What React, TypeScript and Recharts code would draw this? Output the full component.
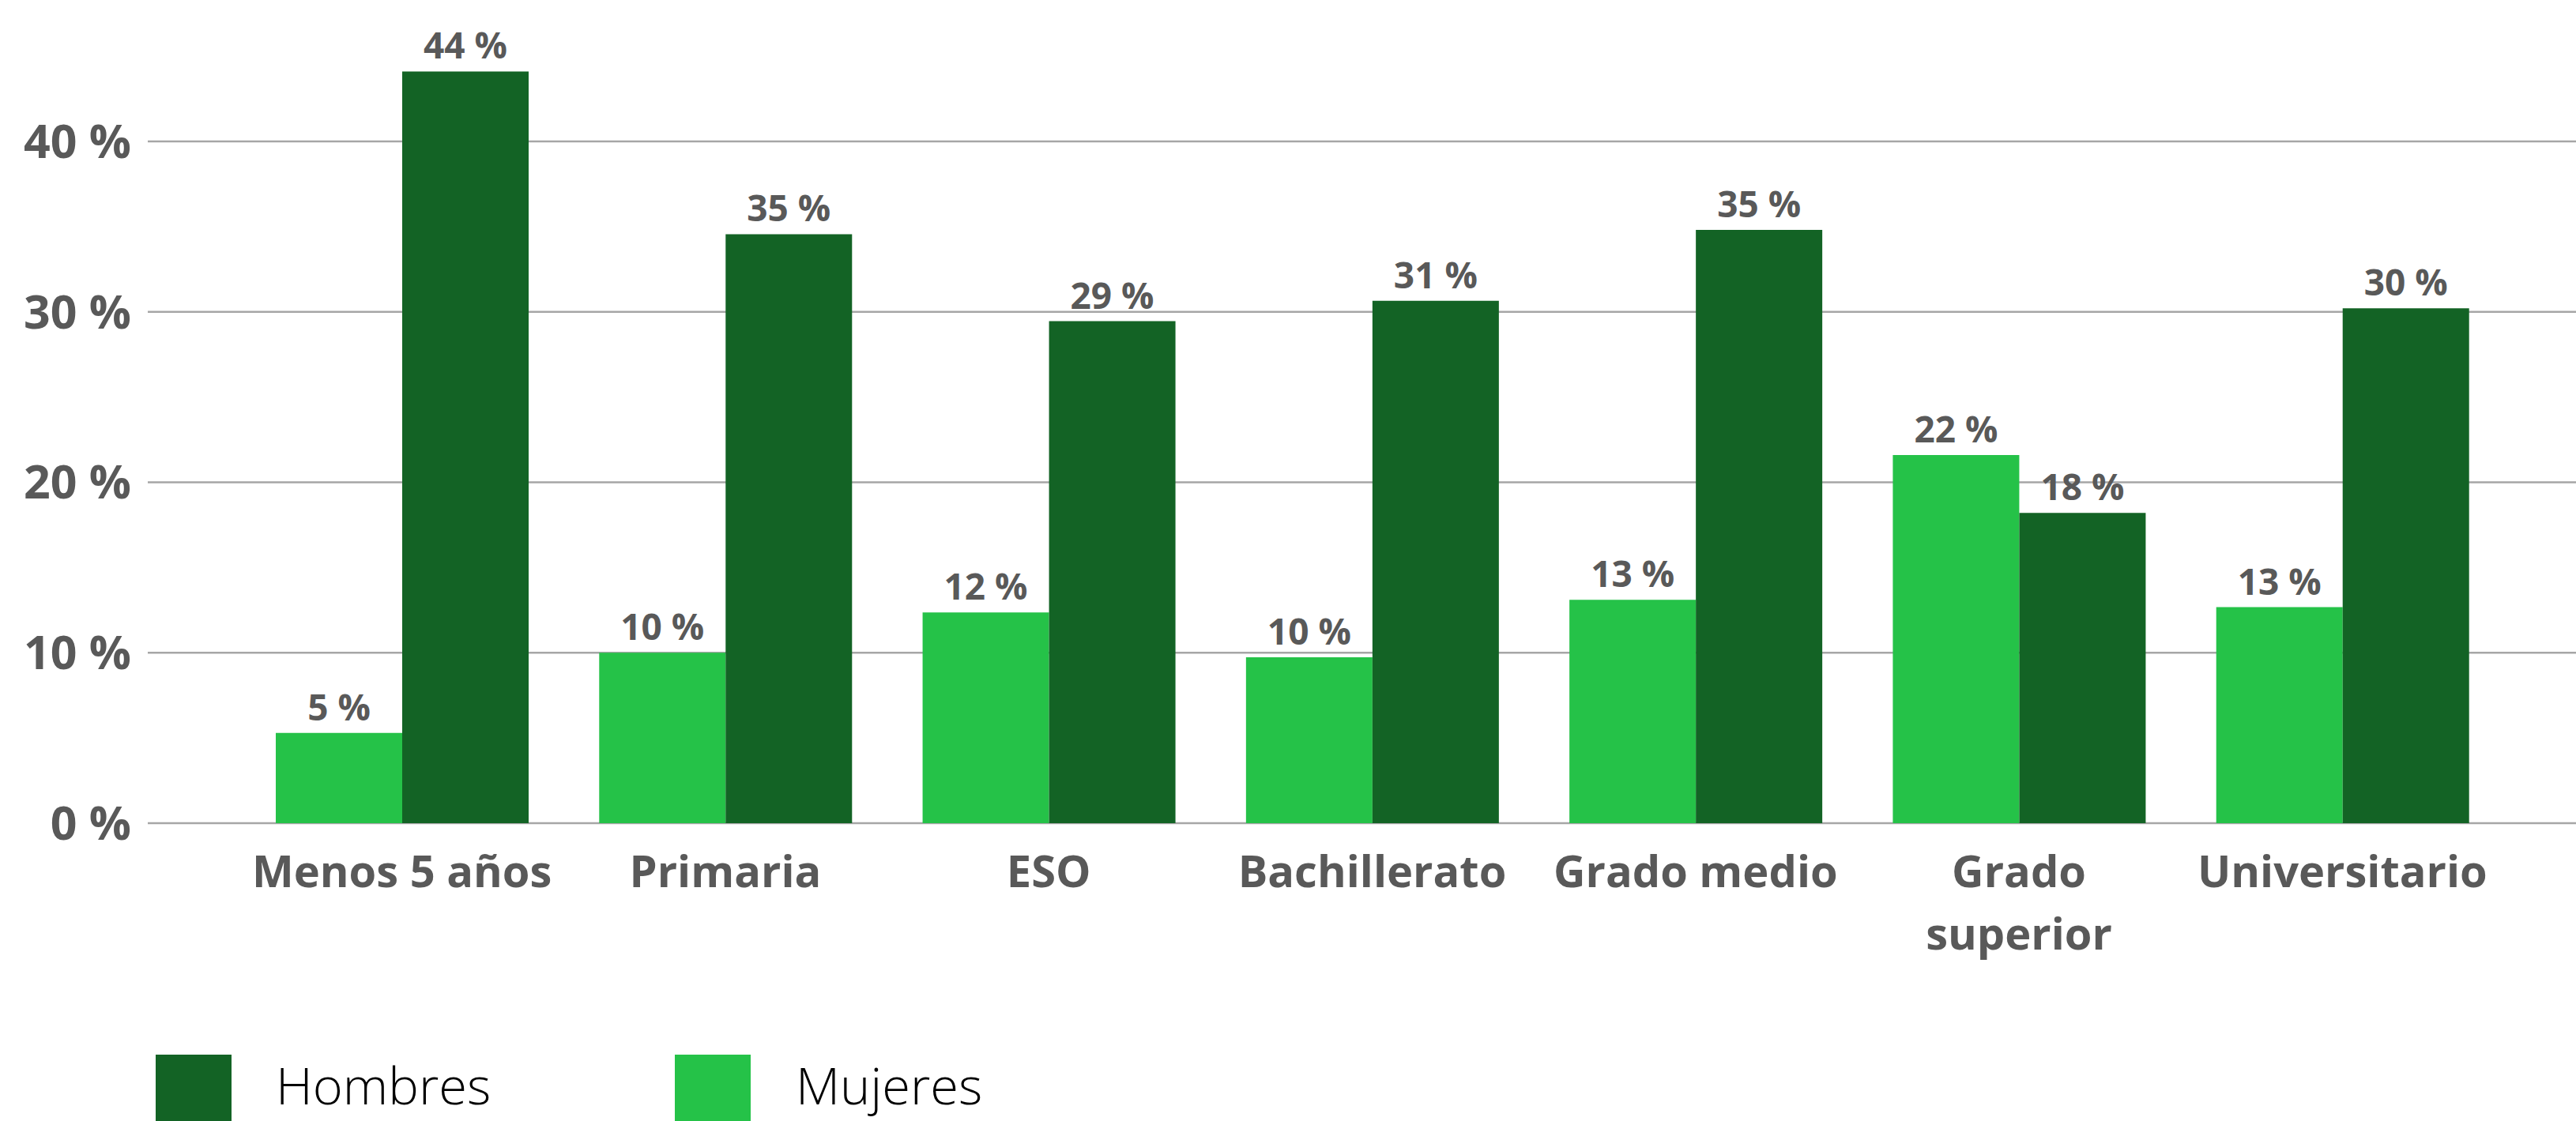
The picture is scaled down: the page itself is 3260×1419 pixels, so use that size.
import React from 'react';
import { BarChart, Bar, XAxis, YAxis, CartesianGrid, LabelList } from 'recharts';

const categories = ['Menos 5 años', 'Primaria', 'ESO', 'Bachillerato', 'Grado medio', 'Grado superior', 'Universitario'];
const mujeres = [5.3, 10.0, 12.36, 9.73, 13.1, 21.6, 12.67];
const hombres = [44.1, 34.55, 29.45, 30.64, 34.8, 18.2, 30.2];
const yTicks = [0, 10, 20, 30, 40];
// how the category labels break over lines
const tickLabelLines = [['Menos 5 años'], ['Primaria'], ['ESO'], ['Bachillerato'], ['Grado medio'], ['Grado', 'superior'], ['Universitario']];

const LIGHT = '#25c248';
const DARK = '#136325';
const TEXT = '#595959';
const FONT = "'Open Sans', 'Noto Sans', sans-serif";

const chartData = categories.map((name, i) => ({
  name,
  mujeres: mujeres[i],
  hombres: hombres[i],
}));

const pct = (v: number) => `${Math.round(v)} %`;

const CategoryTick = (props: any) => {
  const { x, y, index } = props;
  const lines = tickLabelLines[index] || [props.payload.value];
  return (
    <text x={x} y={y} textAnchor="middle" fill={TEXT} fontSize={56} fontWeight={700} fontFamily={FONT}>
      {lines.map((line: string, i: number) => (
        <tspan key={i} x={x} dy={i === 0 ? 81 : 79}>{line}</tspan>
      ))}
    </text>
  );
};

const legendItems = [
  { label: 'Hombres', color: DARK, left: 197, textLeft: 349 },
  { label: 'Mujeres', color: LIGHT, left: 854, textLeft: 1007 },
];

const App = () => {
  return (
    <div style={{ position: 'absolute', top: 0, left: 0, width: 3260, height: 1419, background: '#fff', overflow: 'hidden' }}>
      <BarChart
        width={3260}
        height={1419}
        data={chartData}
        margin={{ top: 71, right: 0, bottom: 177, left: 0 }}
        barGap={0}
        barSize={160}
      >
        <CartesianGrid vertical={false} horizontalValues={yTicks} stroke="#a6a6a6" strokeWidth={2.5} />
        <XAxis
          dataKey="name"
          height={200}
          padding={{ left: 117, right: 91 }}
          axisLine={false}
          tickLine={false}
          tickSize={0}
          tickMargin={0}
          interval={0}
          tick={<CategoryTick />}
        />
        <YAxis
          width={187}
          domain={[0, 45]}
          ticks={yTicks}
          allowDataOverflow
          axisLine={false}
          tickLine={false}
          tickSize={0}
          tickMargin={21}
          tickFormatter={(v: number) => `${v} %`}
          tick={{ fill: TEXT, fontSize: 59, fontWeight: 700, fontFamily: FONT }}
        />
        <Bar dataKey="mujeres" name="Mujeres" fill={LIGHT} isAnimationActive={false}>
          <LabelList dataKey="mujeres" position="top" offset={16} formatter={pct} fill={TEXT} fontSize={46} fontWeight={700} fontFamily={FONT} />
        </Bar>
        <Bar dataKey="hombres" name="Hombres" fill={DARK} isAnimationActive={false}>
          <LabelList dataKey="hombres" position="top" offset={16} formatter={pct} fill={TEXT} fontSize={46} fontWeight={700} fontFamily={FONT} />
        </Bar>
      </BarChart>
      {legendItems.map(item => (
        <React.Fragment key={item.label}>
          <div style={{ position: 'absolute', left: item.left, top: 1335, width: 96, height: 100, background: item.color }} />
          <div style={{ position: 'absolute', left: item.textLeft, top: 1329, fontFamily: FONT, fontWeight: 300, fontSize: 65, lineHeight: '88px', color: '#000' }}>
            {item.label}
          </div>
        </React.Fragment>
      ))}
    </div>
  );
};

export default App;
